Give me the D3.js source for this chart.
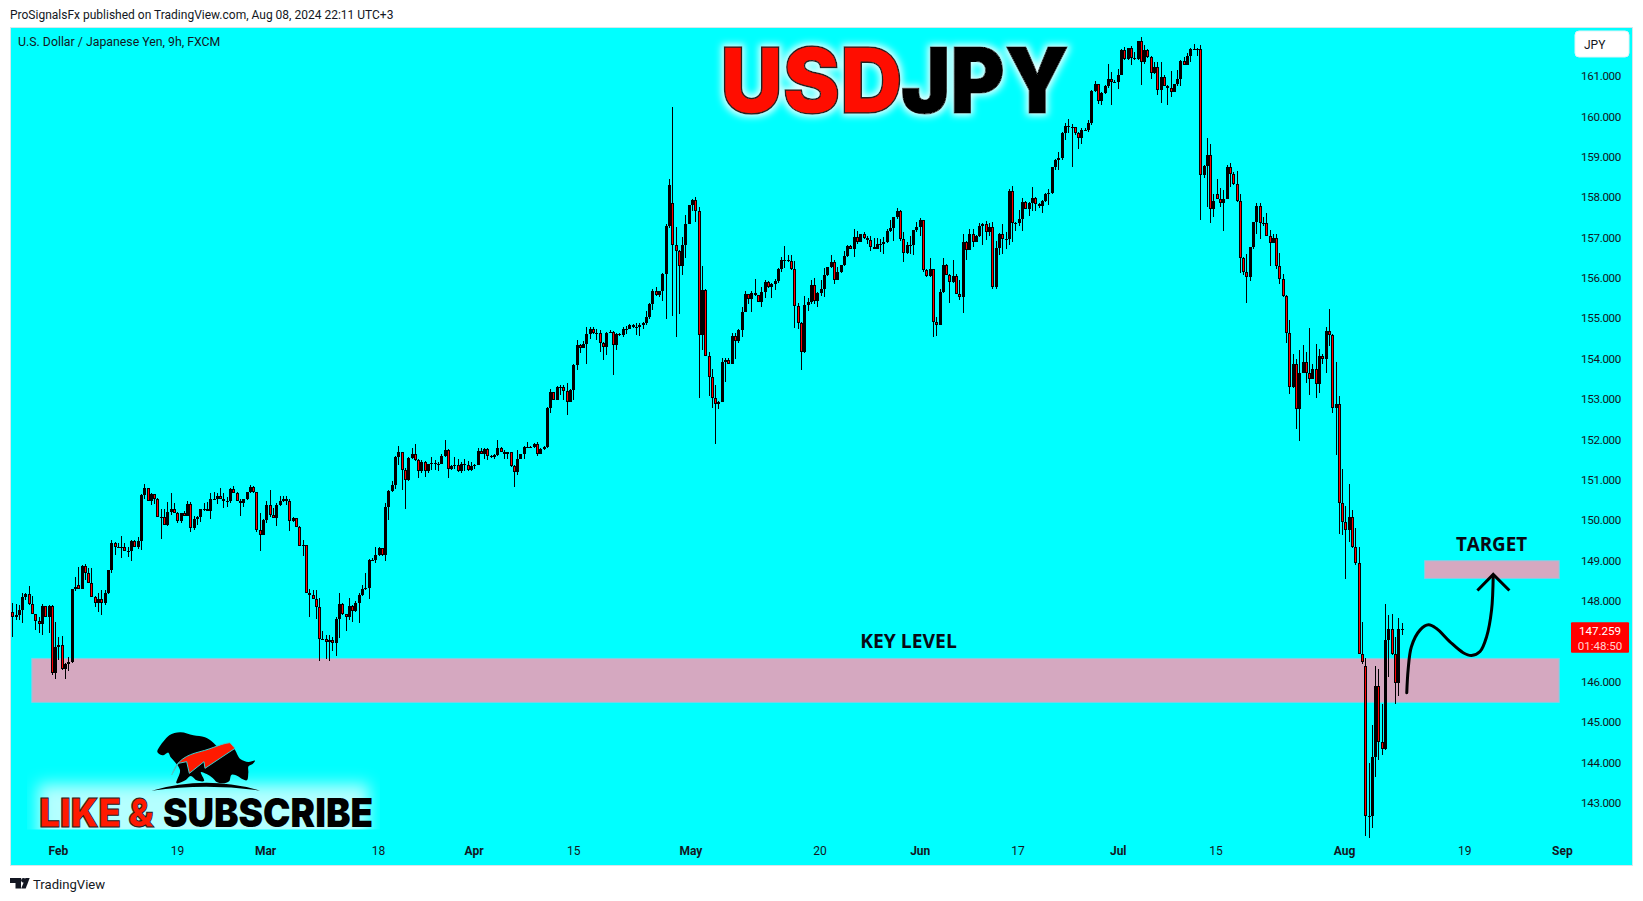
<!DOCTYPE html>
<html><head><meta charset="utf-8">
<script src="https://cdn.jsdelivr.net/npm/d3@7"></script>
<style>
html,body{margin:0;padding:0;background:#fff;overflow:hidden}
svg{display:block}
text{font-family:Roboto,"Liberation Sans",sans-serif;fill:#131722}
</style></head><body><svg id="c" width="1643" height="901"></svg>
<script>
const firstOpen = 147.71;
const gapBars = [20,200,365,410];
const gapOpens = [148.36,157.84,158.06,146.36];
const closes = [
147.57,147.62,147.74,148.06,148.14,147.89,147.66,147.48,147.39,147.85,
147.58,147.85,146.18,146.84,146.87,146.29,146.40,146.47,148.26,148.31,
148.28,148.85,148.66,148.42,148.08,147.93,148.01,147.93,148.16,148.74,
149.42,149.30,149.32,149.32,149.22,149.20,149.45,149.32,149.45,150.59,
150.76,150.46,150.61,150.51,150.06,150.05,149.86,150.17,150.24,150.16,
149.96,150.14,150.08,150.37,149.77,150.00,150.05,150.24,150.26,150.21,
150.49,150.51,150.57,150.51,150.46,150.44,150.74,150.65,150.46,150.41,
150.49,150.66,150.80,150.66,149.73,149.61,149.98,150.34,150.11,150.03,
150.35,150.46,150.51,150.46,149.96,150.02,149.81,149.34,149.35,148.18,
148.13,148.03,147.83,147.02,147.02,146.96,147.00,146.92,147.52,147.90,
147.64,147.57,147.85,147.73,147.91,148.12,148.28,148.30,148.99,148.99,
149.10,149.28,149.11,150.29,150.70,150.84,151.53,151.65,151.22,150.97,
151.51,151.60,151.46,151.18,151.42,151.19,151.36,151.39,151.37,151.37,
151.56,151.72,151.23,151.31,151.33,151.19,151.36,151.34,151.21,151.31,
151.34,151.68,151.62,151.73,151.56,151.53,151.58,151.77,151.66,151.62,
151.65,151.32,151.17,151.50,151.61,151.79,151.79,151.79,151.85,151.61,
151.73,151.79,152.76,153.14,152.96,153.26,153.28,153.18,152.91,153.19,
153.81,154.30,154.25,154.33,154.58,154.70,154.60,154.61,154.37,154.27,
154.62,154.63,154.32,154.58,154.57,154.71,154.72,154.82,154.75,154.76,
154.82,154.85,155.00,155.32,155.64,155.54,155.64,156.08,157.26,158.27,
156.78,156.65,156.27,156.80,157.32,157.77,157.90,157.64,154.57,155.67,
154.04,153.53,152.99,152.86,152.91,153.90,153.93,153.85,154.53,154.40,
154.68,155.14,155.57,155.46,155.61,155.54,155.38,155.62,155.87,155.74,
155.82,155.89,156.19,156.42,156.42,156.40,156.20,155.29,154.85,154.15,
155.30,155.38,155.80,155.40,155.61,155.69,156.04,156.24,156.37,155.92,
156.12,156.29,156.52,156.77,156.70,156.99,156.87,157.05,156.96,156.92,
156.75,156.70,156.81,156.81,156.86,157.13,157.20,157.48,157.62,156.95,
156.58,156.78,156.78,157.15,157.23,157.40,156.18,156.01,156.19,154.87,
154.82,155.62,156.29,156.05,155.87,156.02,155.58,155.49,156.86,156.67,
157.05,156.87,157.01,157.25,157.30,157.10,157.24,155.76,156.71,157.06,
156.93,156.95,158.13,157.34,157.34,157.43,157.85,157.69,157.82,157.95,
157.81,157.76,157.87,158.05,158.07,158.71,158.89,158.94,159.56,159.73,
159.72,159.72,159.57,159.43,159.65,159.65,159.81,160.60,160.77,160.36,
160.56,160.72,160.91,160.82,160.82,161.01,161.63,161.39,161.67,161.41,
161.40,161.83,161.31,161.63,161.45,161.04,161.20,160.64,160.96,160.73,
160.67,160.58,160.77,160.89,161.34,161.26,161.48,161.64,161.64,161.64,
158.53,158.74,159.01,157.68,157.87,157.93,157.83,157.94,158.72,158.56,
158.29,157.87,156.47,156.12,156.00,156.73,157.35,157.75,157.34,157.34,
157.02,156.85,156.97,156.27,155.95,155.53,154.62,153.26,153.84,152.72,
153.63,153.90,153.62,153.48,153.71,153.35,154.03,153.97,154.65,154.57,
152.74,152.86,150.40,149.93,149.73,150.04,149.30,148.92,146.67,146.47,
142.64,142.65,144.11,145.86,144.49,144.30,147.00,147.27,146.65,145.95,
147.29,147.259];
const highs = [
147.91,147.90,147.87,148.16,148.16,148.34,148.09,147.66,147.58,147.90,
147.85,147.87,147.87,147.45,147.07,147.10,146.43,146.59,148.28,148.57,
148.82,148.87,148.89,148.78,148.78,148.09,148.18,148.24,148.24,148.75,
149.48,149.44,149.40,149.58,149.40,149.30,149.48,149.47,149.56,150.61,
150.87,150.78,150.64,150.63,150.52,150.24,150.24,150.43,150.64,150.39,
150.18,150.16,150.21,150.45,150.43,150.08,150.08,150.26,150.39,150.43,
150.64,150.68,150.65,150.77,150.64,150.54,150.76,150.83,150.68,150.49,
150.51,150.68,150.85,150.82,150.68,150.14,150.00,150.46,150.72,150.27,
150.39,150.56,150.56,150.56,150.49,150.04,150.03,149.84,149.48,149.33,
148.28,148.24,148.24,148.04,147.24,147.13,147.14,147.09,147.58,148.16,
147.91,147.66,148.04,147.86,147.96,148.18,148.37,148.66,149.00,149.03,
149.32,149.30,149.29,150.39,150.72,150.95,151.56,151.81,151.67,151.26,
151.53,151.75,151.86,151.50,151.46,151.43,151.37,151.53,151.46,151.42,
151.61,151.95,151.74,151.34,151.53,151.48,151.42,151.48,151.43,151.42,
151.37,151.75,151.75,151.76,151.77,151.58,151.62,151.95,151.79,151.71,
151.67,151.66,151.34,151.72,151.62,151.81,151.91,151.82,151.89,151.91,
151.75,151.81,152.78,153.21,153.15,153.29,153.31,153.32,153.36,153.21,
153.85,154.43,154.33,154.40,154.75,154.76,154.76,154.70,154.68,154.39,
154.64,154.68,154.65,154.60,154.61,154.76,154.78,154.84,154.84,154.85,
154.85,154.89,155.15,155.36,155.71,155.74,155.66,156.10,157.31,158.42,
160.20,157.24,156.67,156.98,157.53,157.79,157.93,157.97,157.72,156.27,
155.69,154.14,153.73,153.32,152.93,153.98,153.98,153.98,154.62,154.62,
154.72,155.26,155.66,155.57,155.66,155.94,155.56,155.75,155.92,155.89,
155.85,155.94,156.23,156.50,156.77,156.54,156.54,156.39,155.35,154.87,
155.53,155.47,155.92,155.96,155.63,155.92,156.21,156.25,156.54,156.42,
156.25,156.30,156.63,156.78,156.78,157.19,157.14,157.07,157.12,157.00,
157.00,156.97,156.96,156.93,156.98,157.18,157.41,157.49,157.70,157.66,
157.11,156.87,157.01,157.17,157.35,157.45,157.42,156.20,156.46,156.20,
155.00,155.71,156.47,156.31,156.07,156.43,156.06,155.92,157.06,156.89,
157.19,157.19,157.03,157.33,157.34,157.39,157.33,157.35,156.89,157.08,
157.31,157.10,158.17,158.25,157.36,157.66,157.95,157.89,157.86,158.22,
157.99,157.84,157.91,158.07,158.17,158.73,158.91,159.10,159.60,159.80,
159.91,159.78,159.72,159.58,159.69,159.68,159.88,160.62,160.85,160.78,
160.58,160.74,161.27,161.08,160.87,161.16,161.65,161.70,161.68,161.72,
161.58,161.85,161.93,161.74,161.65,161.47,161.33,161.33,161.33,161.00,
160.75,161.10,160.78,161.12,161.37,161.45,161.55,161.66,161.78,161.66,
161.74,158.76,159.44,159.30,158.06,158.42,158.21,158.15,158.77,158.83,
158.60,158.62,158.06,156.50,156.56,156.74,157.37,157.84,157.82,157.49,
157.59,157.16,157.07,157.07,156.60,156.07,155.55,154.93,154.09,153.96,
154.19,154.31,154.13,154.73,153.85,154.33,154.21,154.09,154.76,155.20,
154.59,153.88,153.05,151.25,150.32,150.88,150.22,149.77,149.30,147.44,
146.55,143.97,144.90,146.36,146.28,145.41,147.90,147.62,147.66,147.09,
147.54,147.42];
const lows = [
147.09,147.50,147.50,147.42,148.00,147.87,147.65,147.25,147.19,147.12,
147.57,147.19,146.14,146.03,146.51,146.26,146.03,146.24,146.44,148.23,
148.28,148.28,148.49,148.41,148.06,147.83,147.71,147.63,147.87,148.14,
148.66,149.11,149.29,149.03,149.20,149.07,148.95,149.30,149.25,149.23,
150.51,150.44,150.35,150.37,150.04,149.51,149.85,149.84,150.10,150.14,
149.90,149.90,150.07,150.07,149.69,149.73,149.85,149.94,150.21,150.19,
150.01,150.47,150.37,150.49,150.28,150.31,150.39,150.64,150.44,150.08,
150.31,150.47,150.65,150.65,149.69,149.22,149.60,149.90,150.06,150.02,
149.83,150.32,150.43,150.35,149.71,149.94,149.80,149.33,149.09,148.16,
147.58,148.01,147.53,146.49,147.00,146.54,146.49,146.74,146.61,147.05,
147.62,147.24,147.50,147.46,147.71,147.43,148.09,148.24,148.03,148.95,
148.92,149.09,149.09,148.97,149.98,150.68,150.75,151.34,150.72,150.25,
150.95,151.49,151.45,151.01,151.15,151.05,151.13,151.21,151.21,151.19,
151.36,151.54,151.02,151.21,151.23,151.17,151.15,151.19,151.19,151.19,
151.23,151.33,151.61,151.50,151.46,151.51,151.50,151.56,151.65,151.50,
151.50,151.30,150.80,151.09,151.48,151.50,151.75,151.76,151.77,151.56,
151.61,151.71,151.77,152.63,152.95,152.95,153.07,152.95,152.57,152.89,
152.95,153.69,154.12,154.23,153.85,154.47,154.58,154.43,154.14,153.94,
154.06,154.60,153.57,154.20,154.53,154.50,154.58,154.70,154.73,154.56,
154.53,154.72,154.81,154.96,155.18,155.52,155.49,155.40,154.96,157.20,
155.04,154.52,155.08,156.04,156.46,157.30,157.63,157.37,153.00,154.19,
154.03,153.05,152.76,151.85,152.73,152.89,153.40,153.84,153.84,153.97,
154.37,154.52,155.13,155.33,155.13,155.52,155.37,155.26,155.47,155.72,
155.48,155.67,155.86,156.13,156.23,156.38,156.17,154.74,154.70,153.69,
154.11,155.16,155.34,155.34,155.25,155.53,155.49,156.01,156.21,155.82,
155.91,156.09,156.26,156.48,156.68,156.50,156.81,156.86,156.95,156.81,
156.65,156.68,156.68,156.62,156.57,156.83,157.10,156.90,157.44,156.90,
156.38,156.56,156.57,156.54,157.12,157.00,156.13,155.99,155.99,154.52,
154.54,154.80,155.59,156.04,155.36,155.86,155.57,155.43,155.11,156.42,
156.68,156.75,156.86,156.98,156.79,156.91,157.01,155.71,155.71,156.54,
156.57,156.69,156.79,156.87,157.14,157.26,157.14,157.67,157.51,157.62,
157.63,157.70,157.59,157.85,157.78,158.05,158.65,158.65,158.90,159.39,
159.57,158.73,159.51,159.16,159.29,159.62,159.59,159.77,160.57,160.28,
160.25,160.54,160.69,160.25,160.79,160.66,160.99,161.37,161.37,161.25,
161.38,161.37,160.75,161.27,161.43,160.91,161.02,160.50,160.31,160.72,
160.25,160.46,160.57,160.73,160.72,161.25,161.25,161.33,161.62,161.47,
157.40,158.44,157.73,157.34,157.49,157.92,157.73,157.14,157.92,158.23,
158.27,157.85,156.10,156.04,155.36,155.90,156.69,157.06,156.95,157.26,
157.00,156.26,156.83,156.19,155.83,155.51,154.37,153.10,153.24,152.23,
151.93,153.61,153.38,153.07,153.46,153.00,153.12,153.85,153.62,154.28,
152.62,151.58,149.63,149.60,148.51,149.43,149.28,148.86,146.66,146.41,
142.16,142.11,142.35,143.62,144.03,144.15,144.28,146.10,146.63,145.43,
145.62,147.13];
const priceTicks = [143,144,145,146,148,149,150,151,152,153,154,155,156,157,158,159,160,161];
const timeTickBars = [13.8,49.9,76.6,110.8,139.8,170,205.5,244.6,275,304.6,335,364.6,403.6,440,469.6];
const timeTickLabels = ["Feb","19","Mar","18","Apr","15","May","20","Jun","17","Jul","15","Aug","19","Sep"];
const keyZone = {barFrom:5.9,barTo:468.8,priceTop:146.55,priceBottom:145.46};
const targetZone = {barFrom:428,barTo:468.8,priceTop:148.97,priceBottom:148.53};
const arrowBars = [422.6,423,424,426.6,429.2,431.6,435.7,439.7,442.2,444.8,446.8,448.3,448.8];
const arrowPrices = [145.70,146.26,146.84,147.25,147.38,147.29,146.96,146.69,146.62,146.72,147.09,147.75,148.61];
const headBars = [444,448.8,453.7];
const headPrices = [148.23,148.63,148.23];
const lastPrice = "147.259", countdown = "01:48:50";

if (closes.length!==highs.length||closes.length!==lows.length) throw new Error("len "+closes.length+" "+highs.length+" "+lows.length);

const svg = d3.select("#c");
const x = d3.scaleLinear().domain([0,421]).range([12.3,1401.5]);
const y = d3.scaleLinear().domain([143,161]).range([801.7,75]);
const defs = svg.append("defs");
const glow = defs.append("filter").attr("id","glow").attr("x","-10%").attr("y","-30%").attr("width","120%").attr("height","160%");
glow.append("feMorphology").attr("in","SourceAlpha").attr("operator","dilate").attr("radius",2).attr("result","d");
glow.append("feGaussianBlur").attr("in","d").attr("stdDeviation",3.5).attr("result","b");
glow.append("feFlood").attr("flood-color","#eaffff");
glow.append("feComposite").attr("in2","b").attr("operator","in").attr("result","w");
const gm = glow.append("feMerge"); gm.append("feMergeNode").attr("in","w"); gm.append("feMergeNode").attr("in","SourceGraphic");
const blur = defs.append("filter").attr("id","bl").attr("x","-20%").attr("y","-50%").attr("width","140%").attr("height","200%");
blur.append("feGaussianBlur").attr("stdDeviation",8);
defs.append("clipPath").attr("id","lk").append("rect").attr("x",27).attr("y",760).attr("width",353).attr("height",69.5);

// page text
svg.append("text").attr("x",10).attr("y",19).attr("font-size",12).text("ProSignalsFx published on TradingView.com, Aug 08, 2024 22:11 UTC+3");
// panel
svg.append("rect").attr("x",10.5).attr("y",27.5).attr("width",1622).attr("height",838).attr("fill","#00ffff").attr("stroke","#d6e6ea");
svg.append("text").attr("x",18).attr("y",46).attr("font-size",12.3).text("U.S. Dollar / Japanese Yen, 9h, FXCM");

// zones
[keyZone,targetZone].forEach(z=>{
 svg.append("rect").attr("x",x(z.barFrom)).attr("y",y(z.priceTop)).attr("width",x(z.barTo)-x(z.barFrom)).attr("height",y(z.priceBottom)-y(z.priceTop))
  .attr("fill","#d5a8c0").attr("stroke","#7fd0e6").attr("stroke-width",1);
});
svg.append("text").attr("x",908.5).attr("y",647.5).attr("text-anchor","middle").attr("font-size",19.3).attr("font-weight",700).style("font-family","'Open Sans'").style("fill","#0a0a14").text("KEY LEVEL");
svg.append("text").attr("x",1491.5).attr("y",550.5).attr("text-anchor","middle").attr("font-size",18.8).attr("font-weight",700).style("font-family","'Open Sans'").style("fill","#0a0a14").text("TARGET");

// candles
const bars = closes.map((c,i)=>{
 const g = gapBars.indexOf(i);
 const o = g>=0 ? gapOpens[g] : (i===0 ? firstOpen : closes[i-1]);
 return {i,o,c,h:highs[i],l:lows[i]};
});
const cg = svg.append("g").attr("shape-rendering","crispEdges");
const bg = cg.selectAll("g").data(bars).join("g");
bg.append("rect").attr("x",d=>Math.round(x(d.i))).attr("width",1)
  .attr("y",d=>Math.round(y(d.h))).attr("height",d=>Math.max(1,Math.round(y(d.l))-Math.round(y(d.h)))).attr("fill","#000");
const bodyTop = d=>Math.round(y(Math.max(d.o,d.c))), bodyBot = d=>Math.round(y(Math.min(d.o,d.c)));
bg.append("rect").attr("x",d=>Math.round(x(d.i))-1).attr("width",3)
  .attr("y",bodyTop).attr("height",d=>Math.max(1,bodyBot(d)-bodyTop(d))).attr("fill","#000");
bg.filter(d=>d.c<d.o && bodyBot(d)-bodyTop(d)>2).append("rect").attr("x",d=>Math.round(x(d.i))).attr("width",1)
  .attr("y",d=>bodyTop(d)+1).attr("height",d=>bodyBot(d)-bodyTop(d)-2).attr("fill","#ff0000");

// arrow
const ln = d3.line().x(d=>x(d[0])).y(d=>y(d[1]));
svg.append("path").attr("d",ln.curve(d3.curveCatmullRom)(d3.zip(arrowBars,arrowPrices))).attr("fill","none").attr("stroke","#000").attr("stroke-width",3).attr("stroke-linecap","round");
svg.append("path").attr("d",d3.line().x(d=>x(d[0])).y(d=>y(d[1]))(d3.zip(headBars,headPrices))).attr("fill","none").attr("stroke","#000").attr("stroke-width",3);

// price axis
const ax = d3.axisRight(y).tickValues(priceTicks).tickSize(0).tickPadding(0).tickFormat(d3.format(".3f"));
const ag = svg.append("g").attr("transform","translate(1581,1)").call(ax);
ag.select(".domain").remove();
ag.selectAll("text").attr("font-size",11.6).style("letter-spacing","-0.3px").attr("fill","#131722");
// time axis
const tx = d3.axisBottom(x).tickValues(timeTickBars).tickSize(0).tickPadding(0).tickFormat((d,i)=>timeTickLabels[i]);
const tg = svg.append("g").attr("transform","translate(0,846)").call(tx);
tg.select(".domain").remove();
tg.selectAll("text").attr("font-size",12).attr("fill","#131722").attr("font-weight",(d,i)=>/[A-Z]/.test(timeTickLabels[i])?700:400);

// JPY button
svg.append("rect").attr("x",1575).attr("y",31).attr("width",54).attr("height",26).attr("rx",4).attr("fill","#fff").attr("stroke","#e0f4f6");
svg.append("text").attr("x",1584).attr("y",48.5).attr("font-size",12).text("JPY");
// last price
svg.append("rect").attr("x",1571).attr("y",y(+lastPrice)-7.5).attr("width",58).attr("height",30.5).attr("rx",1).attr("fill","#ff0000");
svg.append("text").attr("x",1600).attr("y",634.5).attr("text-anchor","middle").attr("font-size",11.6).style("fill","#fff").text(lastPrice);
svg.append("text").attr("x",1600).attr("y",649.5).attr("text-anchor","middle").attr("font-size",11.6).style("fill","#ffd0d0").text(countdown);

// title
const t = svg.append("g").attr("filter","url(#glow)");
t.append("text").attr("x",720.5).attr("y",112.5).attr("font-size",91).attr("font-weight",900).attr("textLength",182).attr("lengthAdjust","spacingAndGlyphs")
 .style("font-family","Inter").style("fill","#ff1100").attr("stroke","#222").attr("stroke-width",1.5).text("USD");
t.append("text").attr("x",901).attr("y",112.5).attr("font-size",91).attr("font-weight",900).attr("textLength",168).attr("lengthAdjust","spacingAndGlyphs")
 .style("font-family","Inter").style("fill","#000").attr("stroke","#000").attr("stroke-width",1).text("JPY");

// like & subscribe
svg.append("g").attr("clip-path","url(#lk)").append("rect").attr("x",38).attr("y",784).attr("width",331).attr("height",62).attr("fill","#b4ffff").attr("filter","url(#bl)");
const lg = svg.append("g").attr("transform","translate(0,700) scale(0.33333)");
const silhouette = [[472,155],[480,138],[492,122],[508,106],[540,97],[580,106],[615,112],[640,128],[655,142],[700,145],[722,178],[745,186],[765,182],[758,192],[746,198],[745,218],[740,241],[725,236],[708,226],[695,224],[688,243],[650,246],[638,234],[620,222],[603,216],[612,243],[590,241],[572,228],[556,241],[530,250],[540,210],[522,183],[512,172],[505,158],[490,166]];
lg.append("path").attr("fill","#000").attr("d",d3.line().curve(d3.curveCatmullRomClosed.alpha(1))(silhouette));
lg.append("path").attr("fill","#ff1a00").attr("stroke","#3fd0d0").attr("stroke-width",3).attr("d","M515,225 C530,180 560,165 600,155 C640,145 665,130 690,128 L705,145 L660,175 L615,205 L612,185 L568,220 L560,185 L535,190 Z");
lg.append("path").attr("fill","#000").attr("d","M455,272 Q620,225 780,272 Q620,248 455,272 Z");
const big = (s,x0,w,fill,stroke)=>svg.append("text").attr("x",x0).attr("y",826.5).attr("font-size",39.5).attr("font-weight",900).attr("textLength",w).attr("lengthAdjust","spacingAndGlyphs")
 .style("font-family","Inter").style("fill",fill).attr("stroke",stroke).attr("stroke-width",stroke==="none"?0:1).text(s);
big("LIKE &",39.3,114.5,"#ff1a00","#222");
big("SUBSCRIBE",163,210,"#000","none");

// footer
const tv = svg.append("g").attr("fill","#131722");
tv.append("path").attr("d","M10,878 H21 V888.5 H15.5 V883 H10 Z");
tv.append("circle").attr("cx",23.5).attr("cy",880.3).attr("r",2.4);
tv.append("path").attr("d","M25.5,878 H29.7 L25.7,888.5 H21.2 Z");
svg.append("text").attr("x",33).attr("y",888.5).attr("font-size",13.1).text("TradingView");
</script></body></html>
